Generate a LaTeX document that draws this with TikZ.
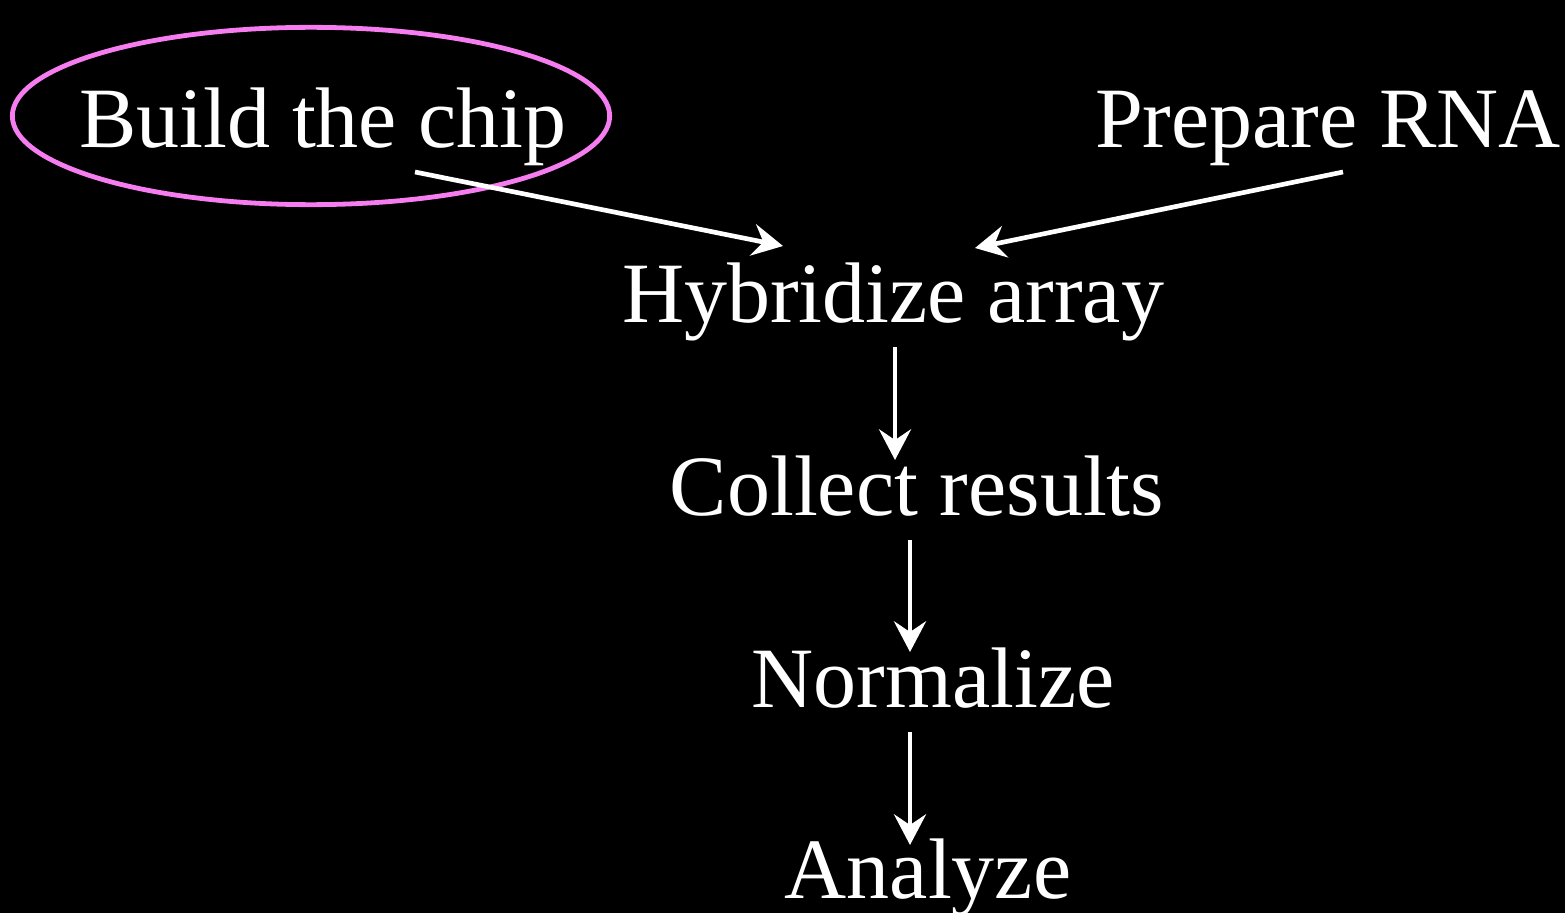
\documentclass[tikz,border=0pt]{standalone}
\usepackage{fontspec}
\setmainfont{Liberation Serif}
\usetikzlibrary{arrows.meta,calc,shapes.geometric}
\begin{document}
\begin{tikzpicture}[x=0.75pt,y=-0.75pt,
  lbl/.style={anchor=base,inner sep=0pt,text=white,font=\fontsize{64.5}{70}\selectfont},
  flow/.style={draw=white,line width=3.5pt,
    -{Stealth[length=23pt,width=24pt,inset=8pt]}},
  ring/.style={ellipse,draw={rgb,255:red,245;green,125;blue,240},line width=3.6pt,
    minimum width=448pt,minimum height=133pt,inner sep=0pt}]
  % page background
  \fill[black] (0,0) rectangle (1565,913);
  \useasboundingbox (0,0) rectangle (1565,913);

  % steps
  \node[lbl] (build) at (323,147) {Build the chip};
  \node[lbl] (prep)  at (1328,147) {Prepare RNA};
  \node[lbl] (hyb)   at (893,322) {Hybridize array};
  \node[lbl] (col)   at (917,515) {Collect results};
  \node[lbl] (norm)  at (933,707) {Normalize};
  \node[lbl] (ana)   at (928,898) {Analyze};

  % highlight around the first step
  \node[ring] (hl) at (311,116) {};

  % connectors
  \draw[flow] ($(build.base)+(92,25)$) -- ($(hyb.base)+(-110,-76)$);
  \draw[flow] ($(prep.base)+(15,25)$) -- ($(hyb.base)+(82,-74)$);
  \draw[flow] ($(hyb.base)+(2,25)$) -- ($(col.base)+(-22,-55)$);
  \draw[flow] ($(col.base)+(-7,25)$) -- ($(norm.base)+(-23,-55)$);
  \draw[flow] ($(norm.base)+(-23,25)$) -- ($(ana.base)+(-18,-53)$);
\end{tikzpicture}
\end{document}
